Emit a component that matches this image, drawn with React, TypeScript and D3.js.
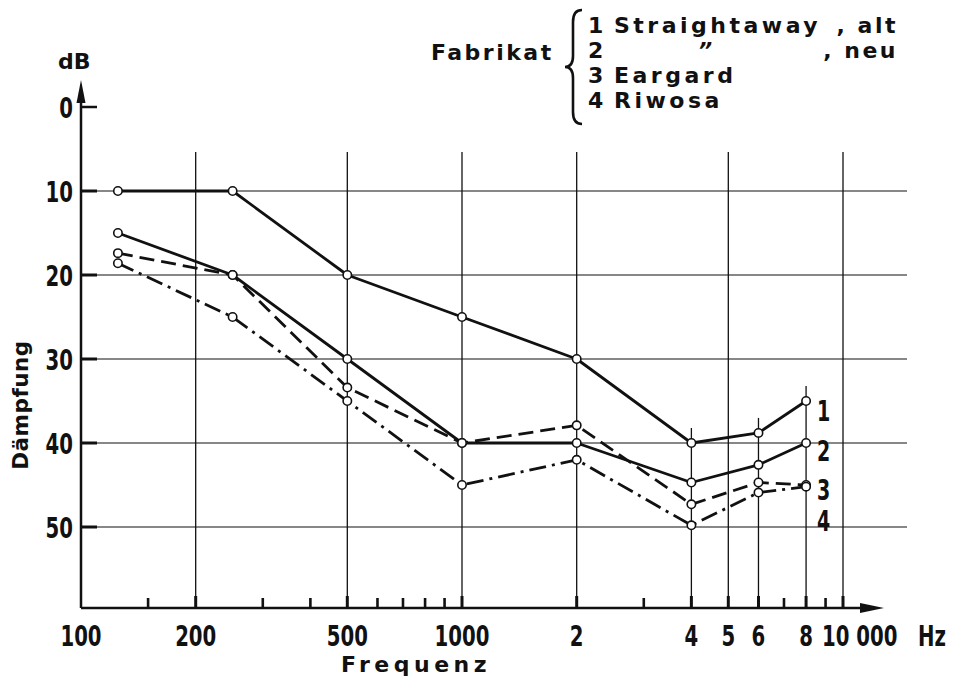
import React, { useEffect } from "react";
import * as d3 from "d3";

// ---- data ----
const freqs = [125, 250, 500, 1000, 2000, 4000, 6000, 8000];
const series1 = [10, 10, 20, 25, 30, 40, 38.8, 35];
const series2 = [15, 20, 30, 40, 40, 44.7, 42.6, 40];
const series3 = [17.4, 20, 33.4, 40, 37.9, 47.3, 44.7, 45];
const series4 = [18.6, 25, 35, 45, 42, 49.8, 45.9, 45.2];
const seriesNames = ["1", "2", "3", "4"];
const seriesLabelDb = [36.2, 40.9, 45.6, 49.3];
const yTicks = [0, 10, 20, 30, 40, 50];
const gridYValues = [10, 20, 30, 40, 50];
const gridXFull = [200, 500, 1000, 2000, 5000, 10000];
const gridXDrop = [4000, 6000, 8000];
const minorX = [150, 300, 400, 600, 700, 800, 900, 3000, 7000, 9000];
const xTickLabels: [number, string][] = [
  [100, "100"], [200, "200"], [500, "500"], [1000, "1000"], [2000, "2"],
  [4000, "4"], [5000, "5"], [6000, "6"], [8000, "8"],
];
const legendRows = ["Straightaway", "\u201D", "Eargard", "Riwosa"];
const legendSuffix = [", alt", ", neu", "", ""];

const W = 956, H = 685;
const axisX = 81, axisY = 608, gridTop = 152, gridRight = 907;

const x = d3.scaleLog().domain([100, 10000]).range([axisX, 843]);
const y = d3.scaleLinear().domain([0, 50]).range([107, 527]);

const sans = "'DejaVu Sans', sans-serif";
const ink = "#111";

const allSeries = [series1, series2, series3, series4];
const dashes = [null, null, "15 7", "17 6 3 6"];

function NText(props: { x: number; y: number; anchor?: string; size?: number; children: any }) {
  const { x: tx, y: ty, anchor = "start", size = 29, children } = props;
  return (
    <text transform={`translate(${tx},${ty}) scale(0.68,1)`} textAnchor={anchor as any}
      fontFamily={sans} fontWeight="bold" fontSize={size} fill={ink}>{children}</text>
  );
}

export default function App() {
  useEffect(() => { document.body.style.margin = "0"; }, []);
  const line = d3.line<number>().x((_, i) => x(freqs[i])).y((v) => y(v));
  const rowY = (k: number) => 33 + k * 25;
  return (
    <svg width={W} height={H} style={{ display: "block", background: "#fff" }}>
      {/* horizontal grid */}
      {gridYValues.map((v) => (
        <g key={"gy" + v}>
          <line x1={axisX} x2={gridRight} y1={y(v)} y2={y(v)} stroke={ink} strokeWidth={1.2} />
          <line x1={axisX} x2={axisX + 16} y1={y(v)} y2={y(v)} stroke={ink} strokeWidth={3} />
        </g>
      ))}
      <line x1={axisX} x2={axisX + 16} y1={y(0)} y2={y(0)} stroke={ink} strokeWidth={2.5} />
      {/* vertical grid */}
      {gridXFull.map((f) => (
        <line key={"gx" + f} x1={x(f)} x2={x(f)} y1={gridTop} y2={axisY} stroke={ink} strokeWidth={1.3} />
      ))}
      {gridXDrop.map((f) => {
        const i = freqs.indexOf(f);
        const top = d3.min(allSeries, (s) => s[i]) as number;
        return <line key={"gd" + f} x1={x(f)} x2={x(f)} y1={y(top) - 15} y2={axisY} stroke={ink} strokeWidth={1.3} />;
      })}
      {/* x ticks */}
      {[...gridXFull, ...gridXDrop].map((f) => (
        <line key={"mt" + f} x1={x(f)} x2={x(f)} y1={axisY - 12} y2={axisY} stroke={ink} strokeWidth={3} />
      ))}
      {minorX.map((f) => (
        <line key={"mn" + f} x1={x(f)} x2={x(f)} y1={axisY - 10} y2={axisY} stroke={ink} strokeWidth={2.6} />
      ))}
      {/* axes */}
      <line x1={axisX} x2={axisX} y1={95} y2={axisY} stroke={ink} strokeWidth={2.5} />
      <path d={`M${axisX},80 L${axisX - 4.5},103 L${axisX + 4.5},103 Z`} fill={ink} />
      <line x1={axisX} x2={870} y1={axisY} y2={axisY} stroke={ink} strokeWidth={2.5} />
      <path d={`M884,${axisY} L860,${axisY - 5} L860,${axisY + 5} Z`} fill={ink} />

      {/* series */}
      {allSeries.map((s, k) => (
        <path key={"s" + k} d={line(s) || ""} fill="none" stroke={ink} strokeWidth={2.8}
          strokeDasharray={dashes[k] || undefined} strokeLinejoin="round" />
      ))}
      {allSeries.map((s, k) =>
        s.map((v, i) => (
          <circle key={"c" + k + i} cx={x(freqs[i])} cy={y(v)} r={4.2} fill="#fff" stroke={ink} strokeWidth={1.6} />
        ))
      )}
      {seriesNames.map((n, k) => (
        <NText key={"sn" + k} x={817} y={y(seriesLabelDb[k]) + 10} size={28}>{n}</NText>
      ))}

      {/* y tick labels */}
      {yTicks.map((v) => (
        <NText key={"yt" + v} x={73} y={y(v) + 10.5} anchor="end">{v}</NText>
      ))}
      <text x={58} y={69} fontFamily={sans} fontWeight="bold" fontSize={22} fill={ink}>dB</text>
      <text transform={`translate(28,405) rotate(-90)`} textAnchor="middle" fontFamily={sans} fontWeight="bold" fontSize={21.5} letterSpacing={0.5} fill={ink}>Dämpfung</text>

      {/* x tick labels */}
      {xTickLabels.map(([f, t]) => (
        <NText key={"xt" + f} x={x(f)} y={646} anchor="middle">{t}</NText>
      ))}
      <NText x={822} y={646}>10 000</NText>
      <NText x={918} y={646}>Hz</NText>
      <text x={416} y={672} textAnchor="middle" fontFamily={sans} fontWeight="bold" fontSize={22} letterSpacing={4.5} fill={ink}>Frequenz</text>

      {/* legend */}
      <text x={431} y={rowY(1) + 2} fontFamily={sans} fontWeight="bold" fontSize={22} letterSpacing={2.5} fill={ink}>Fabrikat</text>
      <path d="M582,10 Q573,10 573,22 L573,56 Q573,67 565,67 Q573,67 573,78 L573,112 Q573,124 582,124"
        fill="none" stroke={ink} strokeWidth={2.6} />
      {legendRows.map((r, k) => (
        <g key={"lg" + k}>
          <text x={588} y={rowY(k)} fontFamily={sans} fontWeight="bold" fontSize={22} fill={ink}>{k + 1}</text>
          <text x={k === 1 ? 698 : 614} y={rowY(k)} fontFamily={sans} fontWeight="bold" fontSize={22}
            letterSpacing={k === 1 ? 0 : 3.5} fontStyle={k === 1 ? "italic" : "normal"} fill={ink}>{r}</text>
          {legendSuffix[k] && (
            <text x={898} y={rowY(k)} textAnchor="end" fontFamily={sans} fontWeight="bold" fontSize={22} letterSpacing={2.5} fill={ink}>{legendSuffix[k]}</text>
          )}
        </g>
      ))}
    </svg>
  );
}
